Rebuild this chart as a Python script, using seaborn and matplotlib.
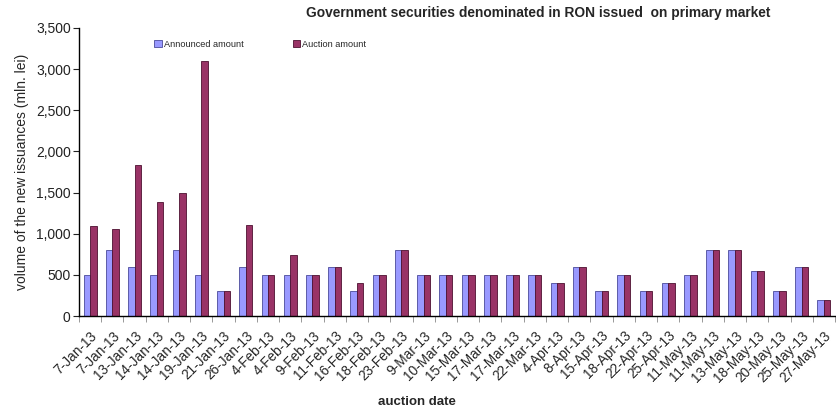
import numpy as np
import pandas as pd
import matplotlib
matplotlib.use("Agg")
import matplotlib.pyplot as plt
import seaborn as sns
from matplotlib.ticker import FuncFormatter, FixedLocator, NullFormatter
from matplotlib.patches import Patch

auction_dates = [
    "7-Jan-13", "7-Jan-13", "13-Jan-13", "14-Jan-13", "14-Jan-13", "19-Jan-13",
    "21-Jan-13", "26-Jan-13", "4-Feb-13", "4-Feb-13", "9-Feb-13", "11-Feb-13",
    "16-Feb-13", "18-Feb-13", "23-Feb-13", "9-Mar-13", "10-Mar-13", "15-Mar-13",
    "17-Mar-13", "17-Mar-13", "22-Mar-13", "4-Apr-13", "8-Apr-13", "15-Apr-13",
    "18-Apr-13", "22-Apr-13", "25-Apr-13", "11-May-13", "11-May-13", "13-May-13",
    "18-May-13", "20-May-13", "25-May-13", "27-May-13",
]
announced = [
    500, 800, 600, 500, 800, 500, 300, 600, 500, 500, 500, 600,
    300, 500, 800, 500, 500, 500, 500, 500, 500, 400, 600, 300,
    500, 300, 400, 500, 800, 800, 550, 300, 600, 200,
]
auctioned = [
    1090, 1060, 1830, 1390, 1500, 3100, 300, 1100, 500, 740, 500, 600,
    400, 500, 800, 500, 500, 500, 500, 500, 500, 400, 600, 300,
    500, 300, 400, 500, 800, 800, 550, 300, 600, 200,
]
series_names = ["Announced amount", "Auction amount"]
series_colors = ["#9999FF", "#993366"]
edge_colors = ["#4a4a9a", "#4d1030"]

n = len(auction_dates)
df = pd.DataFrame({
    "pos": list(range(n)) * 2,
    "value": announced + auctioned,
    "series": [series_names[0]] * n + [series_names[1]] * n,
})

sns.set_style("white")
plt.rcParams["font.family"] = ["Liberation Sans", "DejaVu Sans"]

fig = plt.figure(figsize=(8.36, 4.18), dpi=100)
ax = fig.add_axes([79 / 836, 1 - 316 / 418, (835 - 79) / 836, (316 - 28) / 418])

sns.barplot(data=df, x="pos", y="value", hue="series", hue_order=series_names,
            palette=series_colors, saturation=1, width=0.58, ax=ax, legend=False,
            linewidth=0.6, errorbar=None)

# darker outline per series
for container, ec in zip(ax.containers, edge_colors):
    for bar in container:
        bar.set_edgecolor(ec)

ax.set_xlim(-0.5, n - 0.5)
ax.set_ylim(0, 3500)
ax.set_yticks(np.arange(0, 3501, 500))
ax.yaxis.set_major_formatter(FuncFormatter(lambda v, p: f"{int(v):,}"))
ax.tick_params(axis="y", labelsize=10, length=4, width=0.8, direction="out",
               left=True, pad=2, colors="#222222")

ax.set_xticks(range(n))
ax.set_xticklabels(auction_dates, rotation=45, ha="right", va="top",
                   rotation_mode="anchor", fontsize=9.8)
ax.tick_params(axis="x", which="major", length=0, pad=9)
ax.xaxis.set_minor_locator(FixedLocator(np.arange(-0.5, n, 1.0)))
ax.xaxis.set_minor_formatter(NullFormatter())
ax.tick_params(axis="x", which="minor", length=4, width=0.6, color="#888888",
               bottom=True, direction="out")

for side in ["top", "right"]:
    ax.spines[side].set_visible(False)
for side in ["left", "bottom"]:
    ax.spines[side].set_color("black")
    ax.spines[side].set_linewidth(1.0)

ax.set_xlabel("")
ax.set_ylabel("volume of the new issuances (mln. lei)", fontsize=10, labelpad=5)

handles = [Patch(facecolor=c, edgecolor=e, linewidth=0.6)
           for c, e in zip(series_colors, edge_colors)]
ax.legend(handles, series_names, loc="upper left", bbox_to_anchor=(0.095, 0.972),
          ncol=2, frameon=False, fontsize=6.6, handlelength=0.8, handleheight=0.8,
          handletextpad=0.2, columnspacing=5.4, borderaxespad=0)

fig.text(538 / 836, 1 - 13 / 418, "Government securities denominated in RON issued  on primary market",
         ha="center", va="center", fontsize=9.9, fontweight="bold")
fig.text(417 / 836, 1 - 402 / 418, "auction date", ha="center", va="center",
         fontsize=9.5, fontweight="bold")

fig.savefig("out.png", dpi=100)
